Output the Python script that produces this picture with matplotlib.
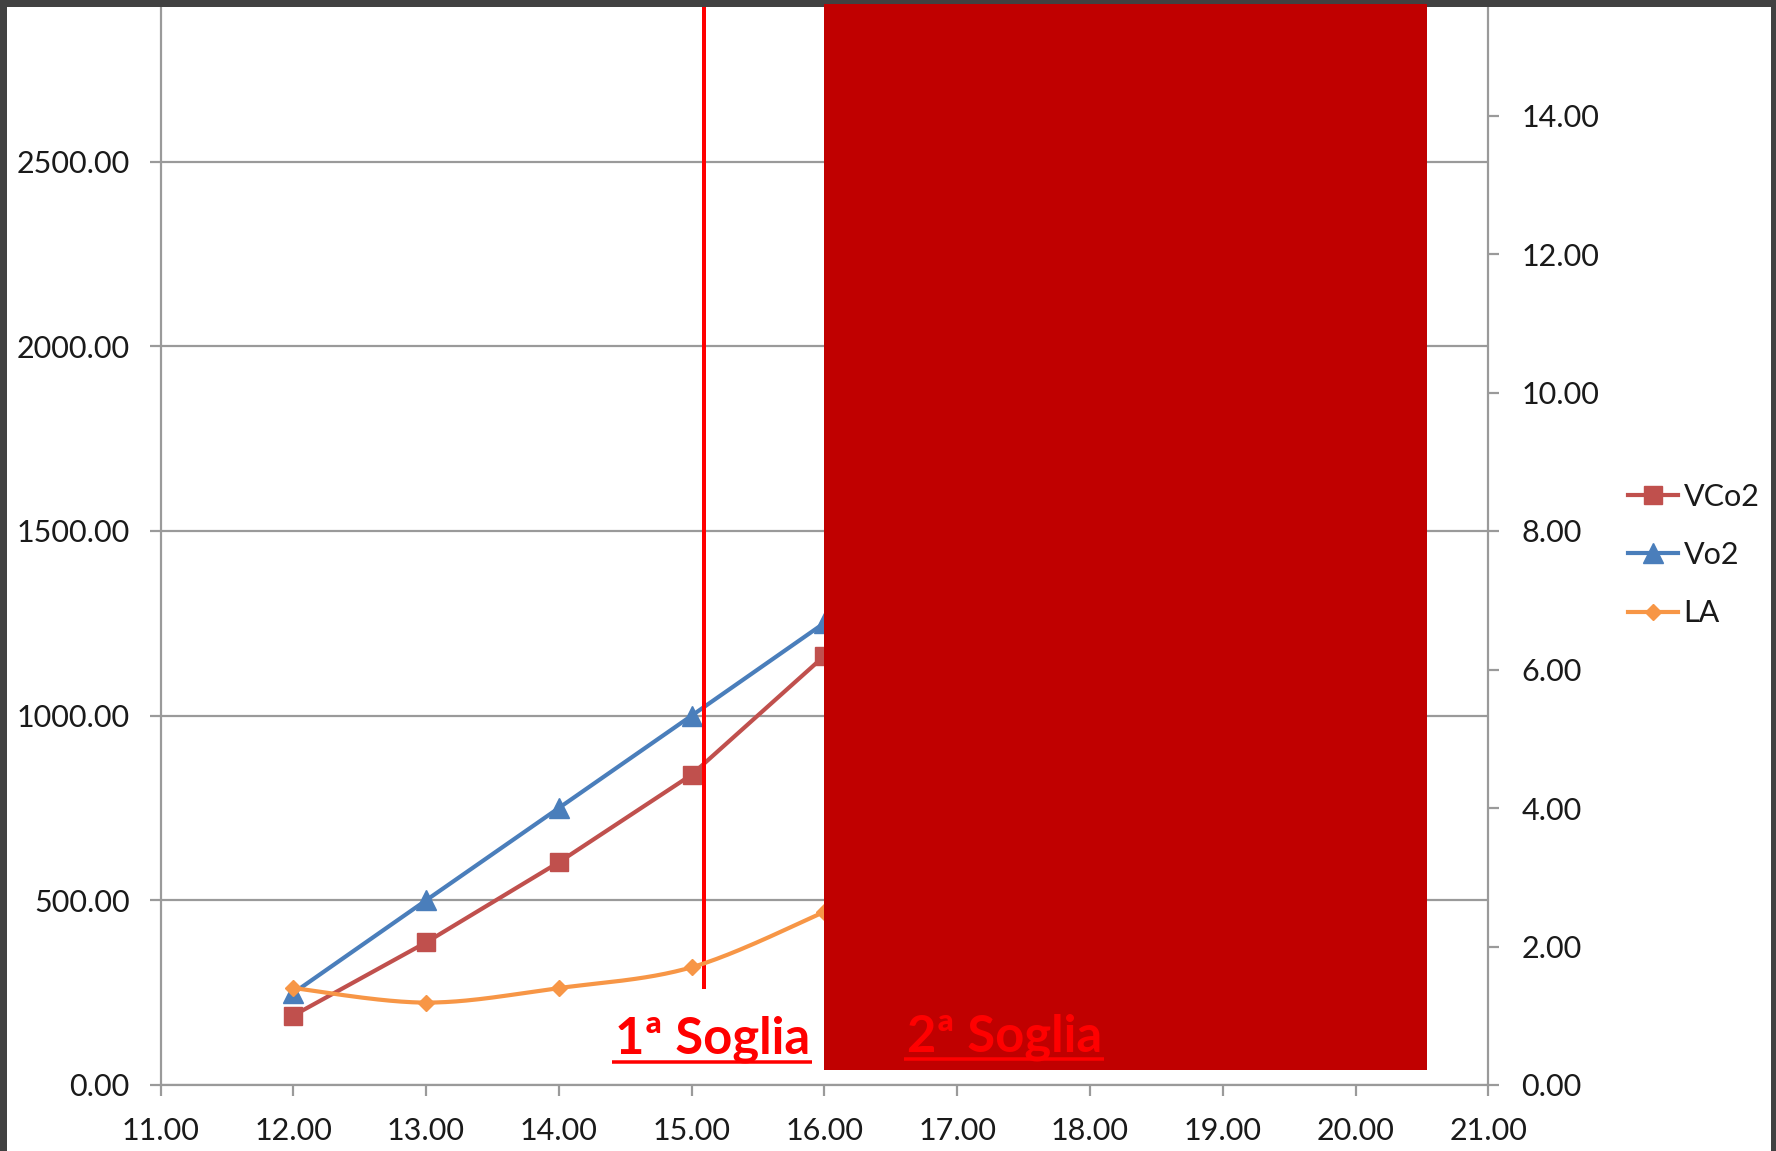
import numpy as np
import matplotlib
matplotlib.use("Agg")
import matplotlib.pyplot as plt
from matplotlib.lines import Line2D
from matplotlib.patches import Rectangle
from matplotlib.transforms import blended_transform_factory

# ---- data -------------------------------------------------------------
speed = [12, 13, 14, 15, 16]
vco2 = [188, 386, 603, 840, 1162]
vo2 = [249, 500, 750, 1000, 1251]
la = [1.40, 1.19, 1.40, 1.70, 2.50]

x_ticks = [11, 12, 13, 14, 15, 16, 17, 18, 19, 20, 21]
left_ticks = [0, 500, 1000, 1500, 2000, 2500]
right_ticks = [0, 2, 4, 6, 8, 10, 12, 14]

soglia1_speed = 15.09
soglia2_band = (16.0, 20.54)

# ---- style ------------------------------------------------------------
FONT = ["Lato", "DejaVu Sans"]
plt.rcParams["font.family"] = FONT
GREY = "#9a9a9a"
C_VCO2 = "#C0504D"
C_VO2 = "#4A7EBB"
C_LA = "#F79646"
RED = "#FF0000"
DARK_RED = "#C00000"
PX = 72 / 100  # points per pixel at dpi 100

W, H = 1776, 1151
fig = plt.figure(figsize=(W / 100, H / 100), dpi=100)
fig.patch.set_facecolor("white")

ax_left, ax_right_px, ax_bottom_px, ax_top_px = 160.5, 1488.3, 1085, -23
ax = fig.add_axes([ax_left / W, 1 - ax_bottom_px / H,
                   (ax_right_px - ax_left) / W, (ax_bottom_px - ax_top_px) / H])
ax.set_xlim(11, 21)
ax.set_ylim(0, 3000)
ax2 = ax.twinx()
ax2.set_ylim(0, 16)


def excel_smooth(xs, ys, n=40):
    """Bezier smoothing through the points; returns curve and knot indices."""
    xs = np.asarray(xs, float)
    ys = np.asarray(ys, float)
    P = np.column_stack([xs, ys])
    Pext = np.vstack([P[0], P, P[-1]])
    out = [P[0]]
    knots = [0]
    for i in range(len(P) - 1):
        p0, p3 = P[i], P[i + 1]
        c1 = p0 + (Pext[i + 2] - Pext[i]) / 6.0
        c2 = p3 - (Pext[i + 3] - Pext[i + 1]) / 6.0
        t = np.linspace(0, 1, n + 1)[1:, None]
        seg = ((1 - t) ** 3) * p0 + 3 * ((1 - t) ** 2) * t * c1 \
            + 3 * (1 - t) * t ** 2 * c2 + t ** 3 * p3
        out.extend(seg)
        knots.append(len(out) - 1)
    out = np.array(out)
    return out[:, 0], out[:, 1], knots


lw = 3.0
l_vco2, = ax.plot(speed, vco2, color=C_VCO2, lw=lw, marker="s", ms=13,
                  mec=C_VCO2, mfc=C_VCO2, label="VCo2", zorder=3)
l_vo2, = ax.plot(speed, vo2, color=C_VO2, lw=lw, marker="^", ms=14,
                 mec=C_VO2, mfc=C_VO2, label="Vo2", zorder=3)
cx, cy, knots = excel_smooth(speed, la)
l_la, = ax2.plot(cx, cy, color=C_LA, lw=lw, marker="D", ms=8.5,
                 markevery=knots, mec=C_LA, mfc=C_LA, label="LA", zorder=3)

# first threshold line
ax.plot([soglia1_speed, soglia1_speed], [260, 3000], color=RED, lw=4 * PX,
        solid_capstyle="butt", clip_on=False, zorder=4)

# axes styling
ax.set_xticks(x_ticks)
ax.set_xticklabels([f"{v:.2f}" for v in x_ticks])
ax.set_yticks(left_ticks)
ax.set_yticklabels([f"{v:.2f}" for v in left_ticks])
ax2.set_yticks(right_ticks)
ax2.set_yticklabels([f"{v:.2f}" for v in right_ticks])

ax.set_axisbelow(True)
ax.yaxis.grid(True, color=GREY, lw=2.2 * PX)
ax.xaxis.grid(False)

for a in (ax, ax2):
    for s in a.spines.values():
        s.set_visible(False)
ax.spines["left"].set_visible(True)
ax.spines["bottom"].set_visible(True)
ax2.spines["right"].set_visible(True)
for s in (ax.spines["left"], ax.spines["bottom"], ax2.spines["right"]):
    s.set_color(GREY)
    s.set_linewidth(2.2 * PX)

tick_kw = dict(direction="out", length=11 * PX, width=2.2 * PX, color=GREY,
               labelsize=22, labelcolor="#1a1a1a")
ax.tick_params(axis="x", pad=21.5 * PX, **tick_kw)
ax.tick_params(axis="y", pad=20 * PX, **tick_kw)
ax2.tick_params(axis="y", pad=22 * PX, **tick_kw)

# legend
leg = fig.legend(handles=[l_vco2, l_vo2, l_la], loc="center left",
                 bbox_to_anchor=(1628 / W, 1 - 555 / H), frameon=False,
                 fontsize=22, borderpad=0, borderaxespad=0,
                 handlelength=1.64, handletextpad=0.18, labelspacing=0.99)
for t in leg.get_texts():
    t.set_color("#1a1a1a")

# second threshold band (on top of everything, figure level)
band_tr = blended_transform_factory(ax.transData, fig.transFigure)
band = Rectangle((soglia2_band[0], 1 - 1070 / H),
                 soglia2_band[1] - soglia2_band[0], (1070 - 4) / H,
                 transform=band_tr, facecolor=DARK_RED, edgecolor="none",
                 zorder=20)
fig.add_artist(band)

# frame around the slide
BORDER = "#414141"
fig.add_artist(Rectangle((0, 1 - 7 / H), 1, 7 / H, transform=fig.transFigure,
                         facecolor=BORDER, edgecolor="none", zorder=10))
fig.add_artist(Rectangle((0, 0), 7 / W, 1, transform=fig.transFigure,
                         facecolor=BORDER, edgecolor="none", zorder=10))
fig.add_artist(Rectangle((1771 / W, 0), 1, 1, transform=fig.transFigure,
                         facecolor=BORDER, edgecolor="none", zorder=10))

# threshold labels, underlined
labels = [("1ª Soglia", 14.42, 84), ("2ª Soglia", 16.62, 92)]
texts = []
for s, x, y in labels:
    t = fig.text(x, y, s, transform=ax.transData, color=RED, fontsize=36.5,
                 fontweight="bold", family=FONT, ha="left", va="baseline",
                 zorder=30)
    texts.append((t, x, y))

fig.canvas.draw()
renderer = fig.canvas.get_renderer()
for t, x, y in texts:
    bb = t.get_window_extent(renderer)
    base = ax.transData.transform((x, y))[1]
    uy = base - 8
    fig.add_artist(Line2D([bb.x0 - 3, bb.x1 + 2], [uy, uy], transform=None,
                          color=RED, lw=3.5 * PX, solid_capstyle="butt",
                          zorder=31))

fig.savefig("out.png", dpi=100)
